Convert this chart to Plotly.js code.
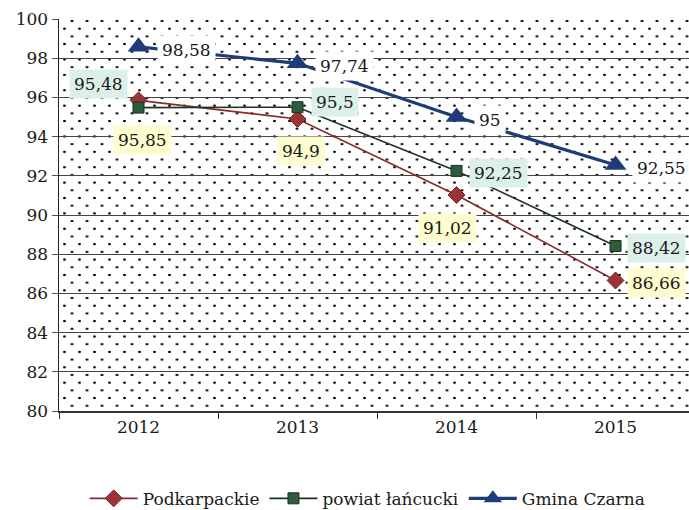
<!DOCTYPE html>
<html>
<head>
<meta charset="utf-8">
<script src="https://cdn.plot.ly/plotly-3.0.1.min.js"></script>
<style>
  html, body { margin: 0; padding: 0; background: #fff; }
  #wrap { position: relative; width: 689px; height: 510px; }
  #dots {
    position: absolute; left: 59px; top: 19px; width: 630px; height: 392px; z-index: 0;
    background-image:
      radial-gradient(circle, #000 1px, rgba(0,0,0,0) 1.5px),
      radial-gradient(circle, #000 1px, rgba(0,0,0,0) 1.5px);
    background-size: 15px 15.4px, 15px 15.4px;
    background-position: -2px 2px, 5.5px 9.7px;
  }
  #chart { position: absolute; left: 0; top: 0; width: 689px; height: 510px; z-index: 1; }
</style>
</head>
<body>
<div id="wrap">
  <div id="dots"></div>
  <div id="chart"></div>
</div>
<script>
const years = ['2012', '2013', '2014', '2015'];
const podkarpackie = [95.85, 94.9, 91.02, 86.66];
const powiat = [95.48, 95.5, 92.25, 88.42];
const gmina = [98.58, 97.74, 95, 92.55];
const seriesNames = ['Podkarpackie', 'powiat łańcucki', 'Gmina Czarna'];
const yTicks = [80, 82, 84, 86, 88, 90, 92, 94, 96, 98, 100];

const FONT = "'DejaVu Serif', 'Liberation Serif', serif";
const FS = 17;
const fmt = v => String(v).replace('.', ',');

const traces = [
  { x: years, y: podkarpackie, name: seriesNames[0], type: 'scatter', mode: 'lines+markers',
    line: { color: '#8B2A2A', width: 1.6 },
    marker: { symbol: 'diamond', size: 13, color: '#9B3535', line: { color: '#7A2020', width: 1 } } },
  { x: years, y: powiat, name: seriesNames[1], type: 'scatter', mode: 'lines+markers',
    line: { color: '#1A3322', width: 1.6 },
    marker: { symbol: 'square', size: 11, color: '#2F5A3C', line: { color: '#1A3322', width: 1 } } },
  { x: years, y: gmina, name: seriesNames[2], type: 'scatter', mode: 'lines+markers',
    line: { color: '#1F3C78', width: 3.2 },
    marker: { symbol: 'triangle-up', size: 19, color: '#1F3C78' } }
];

// label placement (pixel offsets only)
const podOff = [
  { xa: 'center', xs: 4, ys: -40 },
  { xa: 'center', xs: 3, ys: -32 },
  { xa: 'center', xs: -9, ys: -33 },
  { xa: 'left', xs: 11, ys: -3 }
];
const powOff = [
  { xa: 'right', xs: -11, ys: 24 },
  { xa: 'left', xs: 13, ys: 5 },
  { xa: 'left', xs: 12, ys: -2 },
  { xa: 'left', xs: 11, ys: -2 }
];
const gmOff = [
  { xa: 'left', xs: 18, ys: -3 },
  { xa: 'left', xs: 17, ys: -3 },
  { xa: 'left', xs: 17, ys: -3 },
  { xa: 'left', xs: 16, ys: -3 }
];

const annotations = [];
function addLabels(vals, offs, bg) {
  vals.forEach((v, i) => {
    annotations.push({
      x: i, y: v, xref: 'x', yref: 'y', text: fmt(v), showarrow: false,
      xanchor: offs[i].xa, yanchor: 'middle', xshift: offs[i].xs, yshift: offs[i].ys,
      bgcolor: bg, borderpad: 4,
      font: { family: FONT, size: FS, color: '#1a1a1a' }
    });
  });
}
addLabels(podkarpackie, podOff, '#FDFDD0');
addLabels(powiat, powOff, '#DCF0EA');
addLabels(gmina, gmOff, '#FFFFFF');

const layout = {
  width: 689, height: 510,
  margin: { l: 59, r: 0, t: 19, b: 99, autoexpand: false },
  paper_bgcolor: 'rgba(0,0,0,0)',
  plot_bgcolor: 'rgba(0,0,0,0)',
  font: { family: FONT, size: FS, color: '#1a1a1a' },
  showlegend: true,
  legend: {
    orientation: 'h', x: 0.49, xanchor: 'center', y: -0.178, yanchor: 'top',
    font: { family: FONT, size: FS, color: '#1a1a1a' }, itemwidth: 48, traceorder: 'normal'
  },
  xaxis: {
    type: 'category', range: [-0.5, 3.462], automargin: false,
    showgrid: false, zeroline: false,
    showline: true, linecolor: '#333', linewidth: 1.5,
    ticks: 'outside', ticklen: 6, tickcolor: '#333', tickson: 'boundaries',
    tickfont: { family: FONT, size: FS, color: '#1a1a1a' }
  },
  yaxis: {
    range: [80, 100], tickvals: yTicks, ticktext: yTicks.map(String), automargin: false,
    showgrid: true, gridcolor: '#444', gridwidth: 1,
    zeroline: false, showline: true, linecolor: '#222', linewidth: 1.5,
    ticks: 'outside', ticklen: 6, tickcolor: '#555',
    tickfont: { family: FONT, size: FS, color: '#1a1a1a' }
  },
  annotations: annotations
};

Plotly.newPlot('chart', traces, layout, { displayModeBar: false, staticPlot: true });
</script>
</body>
</html>
